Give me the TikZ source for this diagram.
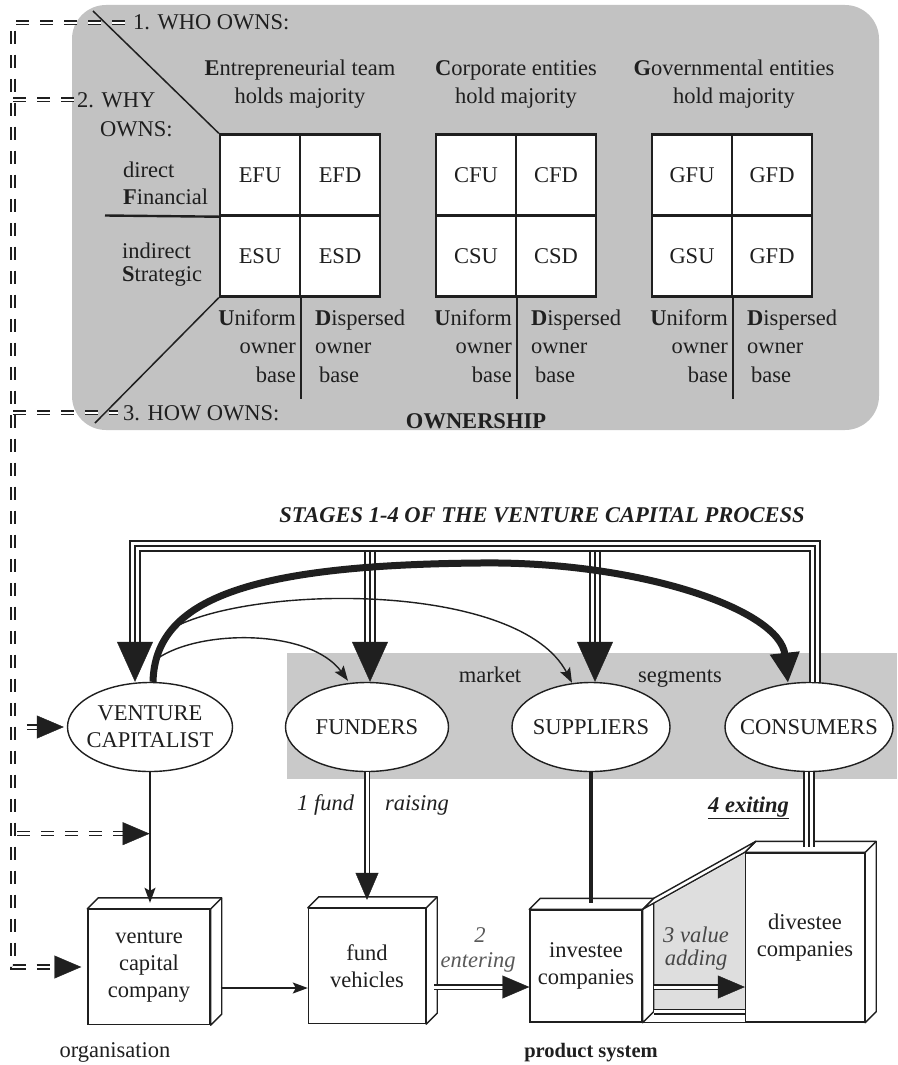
\documentclass[tikz,border=0pt]{standalone}
\usepackage{fontspec}
\setmainfont{Liberation Serif}
\usetikzlibrary{arrows.meta,shapes.geometric,decorations.markings,calc}
\definecolor{ink}{gray}{0.12}
\definecolor{panel}{gray}{0.76}
\definecolor{marketgray}{gray}{0.79}
\definecolor{rampgray}{gray}{0.87}
\definecolor{softink}{gray}{0.35}

% top and right faces of a box whose front face is node #1
\newcommand\cuboidfaces[1]{%
  \filldraw[boxedge] (#1.north west) -- ++(11,-11) -- ([shift={(11,-11)}]#1.north east)
    -- ([shift={(11,-11)}]#1.south east) -- (#1.south east) -- (#1.north east) -- cycle;
  \draw[boxedge] (#1.north east) -- ++(11,-11);
}

% owner-base labels on both sides of the divider at x = #1
\newcommand\ownerbase[2]{%
  \node[anchor=base east] (#2u1) at (#1-4,325) {\textbf{U}niform};
  \node[anchor=base east] (#2u2) at (#1-4,353) {owner};
  \node[anchor=base east] (#2u3) at (#1-4,382) {base};
  \node[anchor=base west] (#2d1) at (#1+15,325) {\textbf{D}ispersed};
  \node[anchor=base west] (#2d2) at (#1+15,353) {owner};
  \node[anchor=base west] (#2d3) at (#1+19,382) {base};
}

\begin{document}
\begin{tikzpicture}[x=1pt, y=-1pt, line cap=butt,
  every node/.style={inner sep=0pt, text=ink, font=\fontsize{22.5}{28}\selectfont},
  cell/.style={draw=ink, line width=2.4pt, fill=white, minimum width=80pt, minimum height=81pt},
  rule/.style={draw=ink, line width=1.5pt},
  dbldash/.style={draw=ink, line width=1.4pt, double=white, double distance=2.4pt, dash pattern=on 13pt off 11pt},
  dblsolid/.style={draw=ink, line width=1.6pt, double=white, double distance=3pt},
  tripleline/.style={draw=ink, line width=12pt, postaction={draw=white, line width=8pt}, postaction={draw=ink, line width=2pt}},
  tipL/.style={postaction={decorate, decoration={markings, mark=at position 1 with {\arrow[ink]{Triangle[length=40pt,width=36pt]}}}}},
  tipM/.style={postaction={decorate, decoration={markings, mark=at position 1 with {\arrow[ink]{Triangle[length=27pt,width=23pt]}}}}},
  thin/.style={draw=ink, line width=1.4pt, -{Stealth[length=15pt,width=11pt,inset=3pt]}},
  ell/.style={ellipse, draw=ink, line width=1.4pt, fill=white, minimum height=89pt},
  elltext/.style={align=center, font=\fontsize{22.5}{27}\selectfont},
  frontbox/.style={draw=ink, line width=1.4pt, fill=white, align=center, font=\fontsize{22.5}{27}\selectfont},
  boxedge/.style={draw=ink, fill=white, line width=1.4pt, line join=round},
  stage/.style={font=\fontsize{22.5}{27}\selectfont\itshape},
]
\useasboundingbox (0,0) rectangle (897,1065);
\fill[white] (0,0) rectangle (897,1065);

% ---------------- ownership panel ----------------
\fill[panel, rounded corners=34pt] (72,5) rectangle (879,430);

\node[anchor=base west] (who) at (133,30) {1. WHO OWNS:};
\node[anchor=base west] (why) at (77,107) {2. WHY};
\node[anchor=base west] (whyb) at (100,136) {OWNS:};
\node[anchor=base west] (how) at (123,420) {3. HOW OWNS:};
\node[anchor=base, font=\fontsize{22.5}{28}\selectfont\bfseries] (own) at (476,428) {OWNERSHIP};

\node[anchor=base] (hE1) at (300,75) {\textbf{E}ntrepreneurial team};
\node[anchor=base] (hE2) at (300,103) {holds majority};
\node[anchor=base] (hC1) at (516,75) {\textbf{C}orporate entities};
\node[anchor=base] (hC2) at (516,103) {hold majority};
\node[anchor=base] (hG1) at (734,75) {\textbf{G}overnmental entities};
\node[anchor=base] (hG2) at (734,103) {hold majority};

\node[anchor=base west] (rd1) at (123,177) {direct};
\node[anchor=base west] (rd2) at (123,204) {\textbf{F}inancial};
\node[anchor=base west] (ri1) at (122,258) {indirect};
\node[anchor=base west] (ri2) at (122,281) {\textbf{S}trategic};

% ownership cells
\node[cell] (efu) at (260,175) {EFU};
\node[cell] (efd) at (340,175) {EFD};
\node[cell] (esu) at (260,256) {ESU};
\node[cell] (esd) at (340,256) {ESD};
\node[cell] (cfu) at (476,175) {CFU};
\node[cell] (cfd) at (556,175) {CFD};
\node[cell] (csu) at (476,256) {CSU};
\node[cell] (csd) at (556,256) {CSD};
\node[cell] (gfu) at (692,175) {GFU};
\node[cell] (gfd) at (772,175) {GFD};
\node[cell] (gsu) at (692,256) {GSU};
\node[cell] (gsd) at (772,256) {GFD};

% row separator and diagonals
\coordinate (sepL) at (105,215.5);
\draw[draw=ink, line width=2.4pt] (sepL) -- (efu.south west);
\coordinate (diagTop) at (93,11);
\coordinate (diagBot) at (95,423);
\draw[rule] (diagTop) -- (efu.north west);
\draw[rule] (esu.south west) -- (diagBot);

% dividers under the cells
\draw[rule] (esu.south east) -- ++(0,101);
\draw[rule] (csu.south east) -- ++(0,101);
\draw[rule] (gsu.south east) -- ++(0,101);
\ownerbase{300}{e}
\ownerbase{516}{c}
\ownerbase{732}{g}

% ---------------- process part ----------------
\fill[marketgray] (287,653) rectangle (897,779);

\node[anchor=base, font=\fontsize{22.5}{27}\selectfont\bfseries\itshape] (title) at (542,522)
  {STAGES 1-4 OF THE VENTURE CAPITAL PROCESS};
\node[anchor=base] (mk1) at (490,682) {market};
\node[anchor=base] (mk2) at (680,682) {segments};

% market actors
\node[ell, minimum width=165pt] (vc) at (150,727) {};
\node[ell, minimum width=163pt] (fu) at (367,727) {};
\node[ell, minimum width=158pt] (su) at (591,727) {};
\node[ell, minimum width=168pt] (co) at (809,727) {};
\node[elltext] (vcT) at (vc) {VENTURE\\CAPITALIST};
\node[elltext] (fuT) at (fu) {FUNDERS};
\node[elltext] (suT) at (su) {SUPPLIERS};
\node[elltext] (coT) at (co) {CONSUMERS};

% triple bus feeding the actors
\coordinate (bVC) at (135,546);
\coordinate (bFU) at (370,546);
\coordinate (bSU) at (595,546);
\coordinate (bCO) at (815,546);
\draw[tripleline, shorten <=36pt, line join=miter] (bVC |- vc.north) -- (bVC) -- (bCO) -- (bCO |- co.north);
\draw[tripleline, shorten >=36pt] ([yshift=-6pt]bFU) -- (bFU |- fu.north);
\draw[tripleline, shorten >=36pt] ([yshift=-6pt]bSU) -- (bSU |- su.north);
\path[tipL] (bVC) -- (bVC |- vc.north);
\path[tipL] (bFU) -- (bFU |- fu.north);
\path[tipL] (bSU) -- (bSU |- su.north);

% arcs out of the venture capitalist
\coordinate (arcTop) at (480,563);
\draw[draw=ink, line width=7pt, -{Triangle[length=30pt,width=28pt]}]
  ([xshift=3pt]vc.north) .. controls +(2,-83) and +(-230,2) .. (arcTop)
  .. controls +(160,-2) and +(-8,-73) .. ([shift={(-21,1)}]co.north);
\draw[thin] ([shift={(7,-23)}]vc.north) .. controls +(43,-30) and +(-38,-52) .. ([shift={(-19,-1)}]fu.north);
\draw[thin] ([shift={(25,-55)}]vc.north) .. controls +(85,-43) and +(-52,-100) .. ([shift={(-19,1)}]su.north);

% organisation and product system boxes
\node[frontbox, minimum width=122pt, minimum height=115pt] (vcc) at (149,967) {venture\\capital\\company};
\node[frontbox, minimum width=117pt, minimum height=115pt] (fv) at (367,966) {fund\\vehicles};
\fill[rampgray] (653,905) -- (746,853) -- (746,1011) -- (653,1011) -- cycle;
\node[frontbox, minimum width=112pt, minimum height=112pt] (ic) at (586,966) {investee\\companies};
\node[frontbox, minimum width=119pt, minimum height=169pt] (dc) at (805,937.5) {divestee\\companies};
\cuboidfaces{vcc}
\cuboidfaces{fv}
\cuboidfaces{ic}
\cuboidfaces{dc}
% ramp joining investee and divestee companies
\filldraw[boxedge] (ic.north east) -- ++(11,-11) -- ([shift={(11,-11)}]dc.north west) -- (dc.north west) -- cycle;
\draw[boxedge] (ic.south east) -- (dc.south west);
\draw[dblsolid] ([shift={(11,-11)}]ic.south east) -- ([yshift=11pt]dc.south west);

\node[anchor=base, font=\fontsize{22.5}{28}\selectfont] (org) at (115,1057) {organisation};
\node[anchor=base, font=\fontsize{20.5}{28}\selectfont\bfseries] (prod) at (591,1057) {product system};

% venture capitalist -> venture capital company
\coordinate (vcctop) at ([yshift=6pt]vcc.north);
\draw[thin] (vc.south) -- (vc.south |- vcctop);
% venture capital company -> fund vehicles
\coordinate (a1) at ([shift={(10,21)}]vcc.east);
\draw[thin] (a1) -- (a1 -| fv.west);

% 1 fund raising
\coordinate (fvtop) at ([yshift=8pt]fv.north);
\draw[dblsolid, shorten >=22pt] (fu.south) -- (fu.south |- fvtop);
\path[tipM] (fu.south) -- (fu.south |- fvtop);
\node[anchor=base west, stage] (s1a) at (297,810) {1 fund};
\node[anchor=base west, stage] (s1b) at (385,810) {raising};

% 2 entering
\coordinate (a2) at ([shift={(8,21)}]fv.east);
\draw[dblsolid, shorten >=20pt] (a2) -- (a2 -| ic.west);
\path[tipM] (a2) -- (a2 -| ic.west);
\node[anchor=base, stage, text=softink] (s2a) at (480,942) {2};
\node[anchor=base, stage, text=softink] (s2b) at (478,967) {entering};

% suppliers -> investee companies
\coordinate (ictop) at ([yshift=6pt]ic.north);
\draw[draw=ink, line width=3.5pt] (su.south) -- (su.south |- ictop);

% 3 value adding
\coordinate (a3) at ([shift={(11,21)}]ic.east);
\draw[dblsolid, shorten >=20pt] (a3) -- (a3 -| dc.west);
\path[tipM] (a3) -- (a3 -| dc.west);
\node[anchor=base, stage, text=softink!80!black] (s3a) at (696,942) {3 value};
\node[anchor=base, stage, text=softink!80!black] (s3b) at (696,965) {adding};

% 4 exiting
\coordinate (dctop) at ([yshift=5pt]dc.north);
\draw[tripleline] (co.south) -- (co.south |- dctop);
\node[anchor=base west, font=\fontsize{22.5}{27}\selectfont\bfseries\itshape] (s4) at (708,812) {\underline{4 exiting}};

% ---------------- ownership feedback lines ----------------
\coordinate (Lx) at (13,0);
\draw[dbldash] ([xshift=-8pt]who.west) -| (Lx |- vcc.west) -- ([xshift=-24pt]vcc.west);
\path[tipM] ([xshift=-30pt]vcc.west) -- ([xshift=-6pt]vcc.west);
\draw[dbldash] (Lx |- why.west) -- ([xshift=-3pt]why.west);
\draw[dbldash] (Lx |- how.west) -- ([xshift=-5pt]how.west);
\draw[dblsolid] ([xshift=-40pt]vc.west) -- ([xshift=-24pt]vc.west);
\path[tipM] ([xshift=-30pt]vc.west) -- ([xshift=-3pt]vc.west);
\coordinate (vcmid) at ($(vc.south)!0.45!(vcc.north)$);
\draw[dbldash, shorten >=24pt] ([xshift=4pt]Lx |- vcmid) -- (vcmid);
\path[tipM] ([xshift=-30pt]vcmid) -- (vcmid);
\end{tikzpicture}
\end{document}
